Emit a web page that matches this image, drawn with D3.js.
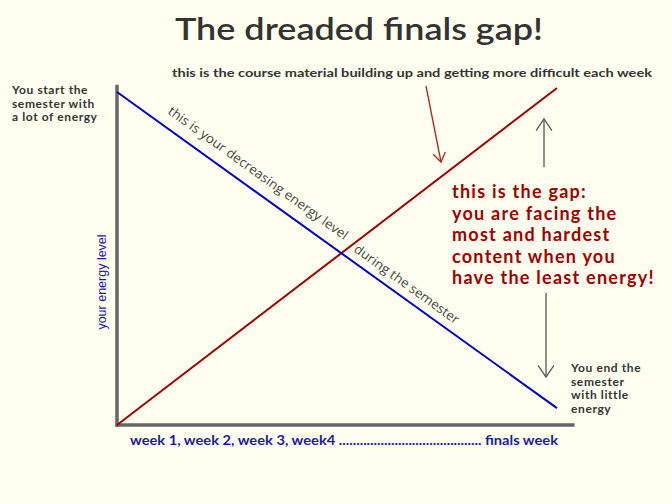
<!DOCTYPE html>
<html><head><meta charset="utf-8">
<script src="https://cdn.jsdelivr.net/npm/d3@7"></script>
<style>
html,body{margin:0;padding:0;background:#fffff0;}
svg{display:block;}
</style></head>
<body>
<script>
// ---- data ----
const weeks = [0, 1];                 // start of semester -> finals week
const energy = [0.988, 0.05];         // your energy level
const difficulty = [0, 1];            // course material difficulty
const xAxisLabel = "week 1, week 2, week 3, week4 ......................................... finals week";
const yAxisLabel = "your energy level";
const title = "The dreaded finals gap!";
const topNote = "this is the course material building up and getting more difficult each week";
const startNote = ["You start the", "semester with", "a lot of energy"];
const endNote = ["You end the", "semester", "with little", "energy"];
const gapNote = ["this is the gap:", "you are facing the", "most and hardest", "content when you", "have the least energy!"];
const lineNote1 = "this is your decreasing energy level";
const lineNote2 = "during the semester";

const W = 672, H = 504;
const svg = d3.select("body").append("svg").attr("width", W).attr("height", H);
svg.append("rect").attr("width", W).attr("height", H).attr("fill", "#fffff0");

const x = d3.scaleLinear().domain([0, 1]).range([117, 557]);
const y = d3.scaleLinear().domain([0, 1]).range([425, 88]);
const comic = "Lato, 'Open Sans', sans-serif";

// title
svg.append("text").attr("x", 359).attr("y", 40).attr("text-anchor", "middle")
  .attr("font-family", comic).attr("font-size", 30).attr("font-weight", 600).attr("fill", "#333")
  .attr("textLength", 368).attr("lengthAdjust", "spacingAndGlyphs").text(title);

// axes
svg.append("line").attr("x1", x(0)).attr("x2", x(0)).attr("y1", y(1.01)).attr("y2", y(0) + 2)
  .attr("stroke", "#666").attr("stroke-width", 3.5);
svg.append("line").attr("x1", x(0) - 1.5).attr("x2", x(1.04)).attr("y1", y(0)).attr("y2", y(0))
  .attr("stroke", "#666").attr("stroke-width", 3.5);

// lines
const line = d3.line().x(d => x(d[0])).y(d => y(d[1]));
svg.append("path").datum(weeks.map((w, i) => [w, difficulty[i]])).attr("d", line)
  .attr("fill", "none").attr("stroke", "#a00000").attr("stroke-width", 2);
svg.append("path").datum(weeks.map((w, i) => [w, energy[i]])).attr("d", line)
  .attr("fill", "none").attr("stroke", "#0000cc").attr("stroke-width", 2);

// axis labels
svg.append("text").attr("x", 130).attr("y", 445).attr("font-family", comic)
  .attr("font-size", 12.5).attr("font-weight", "bold").attr("fill", "#1a1aa8")
  .attr("textLength", 428).attr("lengthAdjust", "spacingAndGlyphs").text(xAxisLabel);
svg.append("text").attr("transform", "translate(106,282) rotate(-90)").attr("text-anchor", "middle")
  .attr("font-family", "'Liberation Sans', Arial, sans-serif").attr("font-size", 12.5)
  .attr("fill", "#1a1aa8").text(yAxisLabel);

// top note
svg.append("text").attr("x", 172).attr("y", 77).attr("font-family", comic)
  .attr("font-size", 12).attr("font-weight", "bold").attr("fill", "#333")
  .attr("textLength", 480).attr("lengthAdjust", "spacingAndGlyphs").text(topNote);

// start note
svg.append("g").selectAll("text").data(startNote).join("text")
  .attr("x", 12).attr("y", (d, i) => 94 + i * 13.5).attr("font-family", comic)
  .attr("font-size", 12).attr("font-weight", "bold").attr("letter-spacing", 0.6)
  .attr("fill", "#333").text(d => d);

// end note
svg.append("g").selectAll("text").data(endNote).join("text")
  .attr("x", 571).attr("y", (d, i) => 372 + i * 13.5).attr("font-family", comic)
  .attr("font-size", 12).attr("font-weight", "bold").attr("letter-spacing", 0.6)
  .attr("fill", "#333").text(d => d);

// gap note
svg.append("g").selectAll("text").data(gapNote).join("text")
  .attr("x", 452).attr("y", (d, i) => 198 + i * 21.5).attr("font-family", comic)
  .attr("font-size", 18).attr("font-weight", "bold").attr("letter-spacing", 1.25)
  .attr("fill", "#a00000").text(d => d);

// arrows
function arrow(x1, y1, x2, y2, color, head) {
  const a = Math.atan2(y2 - y1, x2 - x1);
  const g = svg.append("g").attr("stroke", color).attr("stroke-width", 1.3).attr("fill", "none");
  g.append("line").attr("x1", x1).attr("y1", y1).attr("x2", x2).attr("y2", y2);
  const s = 0.6;
  g.append("path").attr("d",
    `M${x2 - head * Math.cos(a - s)},${y2 - head * Math.sin(a - s)} L${x2},${y2} L${x2 - head * Math.cos(a + s)},${y2 - head * Math.sin(a + s)}`);
}
arrow(426, 86, 441, 162, "#b22222", 11);
arrow(544, 167, 544, 119, "#555", 14);
arrow(546, 293, 546, 377, "#555", 14);

// rotated text along energy line
const ang = Math.atan2(y(energy[1]) - y(energy[0]), x(weeks[1]) - x(weeks[0])) * 180 / Math.PI;
svg.append("text").attr("transform", `translate(167,113) rotate(${ang})`)
  .attr("font-family", "'Open Sans', sans-serif").attr("font-size", 13).attr("fill", "#444")
  .attr("textLength", 218).attr("lengthAdjust", "spacingAndGlyphs").text(lineNote1);
svg.append("text").attr("transform", `translate(353,251) rotate(${ang})`)
  .attr("font-family", "'Open Sans', sans-serif").attr("font-size", 13).attr("fill", "#444")
  .attr("textLength", 126).attr("lengthAdjust", "spacingAndGlyphs").text(lineNote2);
</script>
</body></html>
